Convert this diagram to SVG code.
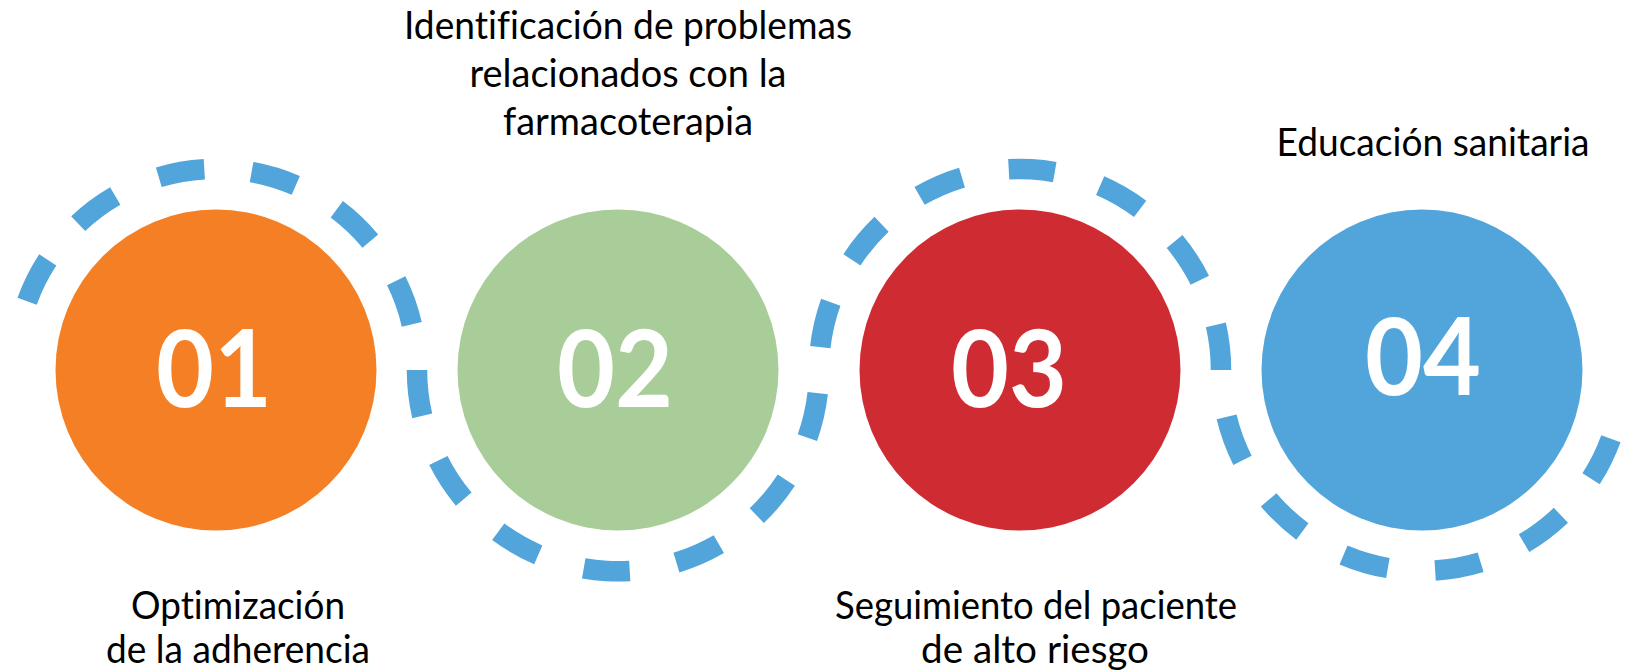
<svg xmlns="http://www.w3.org/2000/svg" width="1635" height="672" viewBox="0 0 1635 672">
<style>
.ring{fill:none;stroke:#51A5DB;stroke-width:20.5;stroke-dasharray:46.3 47.5;}
.num{font-family:Lato,"Open Sans","Liberation Sans",sans-serif;font-weight:700;font-size:107px;fill:#fff;text-anchor:middle;}
.lbl{font-family:Lato,"Open Sans","Liberation Sans",sans-serif;font-size:38px;fill:#000;text-anchor:middle;font-variant-ligatures:none;font-feature-settings:"liga" 0,"clig" 0;}
</style>
<rect width="1635" height="672" fill="#fff"/>
<g id="node-01">
<path class="ring" d="M 27.1 301.3 A 201 201 0 0 1 411.9 324.8"/>
<circle cx="216" cy="370" r="160.5" fill="#F47F24"/>
<text class="num" x="214" y="407" textLength="116" lengthAdjust="spacingAndGlyphs">01</text>
<text class="lbl" x="238" y="619" textLength="214" lengthAdjust="spacingAndGlyphs">Optimización</text>
<text class="lbl" x="238" y="663" textLength="264" lengthAdjust="spacingAndGlyphs">de la adherencia</text>
</g>
<g id="node-02">
<path class="ring" d="M 417 370 A 201 201 0 0 0 817.7 393.1"/>
<circle cx="618" cy="370" r="160.5" fill="#A9CD98"/>
<text class="num" x="615" y="407" textLength="116" lengthAdjust="spacingAndGlyphs">02</text>
<text class="lbl" x="628" y="39" textLength="448" lengthAdjust="spacingAndGlyphs">Identificación de problemas</text>
<text class="lbl" x="628" y="87" textLength="317" lengthAdjust="spacingAndGlyphs">relacionados con la</text>
<text class="lbl" x="628" y="135" textLength="250" lengthAdjust="spacingAndGlyphs">farmacoterapia</text>
</g>
<g id="node-03">
<path class="ring" d="M 820.3 347.2 A 201 201 0 0 1 1221 370"/>
<circle cx="1020" cy="370" r="160.5" fill="#CE2B33"/>
<text class="num" x="1009" y="407" textLength="116" lengthAdjust="spacingAndGlyphs">03</text>
<text class="lbl" x="1036" y="619" textLength="402" lengthAdjust="spacingAndGlyphs">Seguimiento del paciente</text>
<text class="lbl" x="1035" y="663" textLength="228" lengthAdjust="spacingAndGlyphs">de alto riesgo</text>
</g>
<g id="node-04">
<path class="ring" d="M 1226.6 416.9 A 201 201 0 0 0 1610.9 438.7"/>
<circle cx="1422" cy="370" r="160.5" fill="#51A5DB"/>
<text class="num" x="1423" y="395" textLength="116" lengthAdjust="spacingAndGlyphs">04</text>
<text class="lbl" x="1433" y="156" textLength="313" lengthAdjust="spacingAndGlyphs">Educación sanitaria</text>
</g>
<g id="connectors"></g>
</svg>
